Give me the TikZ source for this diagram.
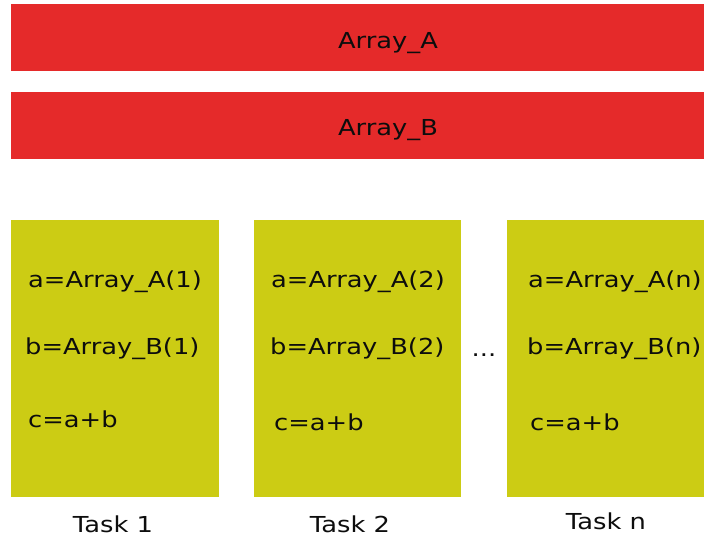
\documentclass[tikz,border=0pt]{standalone}
\usepackage{fontspec}
\setmainfont{DejaVu Sans}[FakeStretch=1.17]
\definecolor{barred}{HTML}{E52A2A}
\definecolor{taskyel}{HTML}{CCCC14}
\begin{document}
\begin{tikzpicture}[x=1pt,y=-1pt,
  bar/.style={fill=barred,draw=none},
  taskbox/.style={fill=taskyel,draw=none},
  txt/.style={font=\fontsize{22}{26}\selectfont,inner sep=0pt,text=black!95},
  lt/.style={txt,anchor=west}]
\useasboundingbox (0,0) rectangle (704,537);
\fill[white] (0,0) rectangle (704,537);
\path[bar] (11,4) rectangle (704,71);
\path[bar] (11,92) rectangle (704,159);
\node[txt] (arra) at (388,43) {Array\_A};
\node[txt] (arrb) at (388,130) {Array\_B};
\path[taskbox] (11,220) rectangle (219,497);
\path[taskbox] (254,220) rectangle (461,497);
\path[taskbox] (507,220) rectangle (704,497);
\node[lt] (a1) at (28,282) {a=Array\_A(1)};
\node[lt] (b1) at (25,349) {b=Array\_B(1)};
\node[lt] (c1) at (28,419) {c=a+b};
\node[lt] (a2) at (271,282) {a=Array\_A(2)};
\node[lt] (b2) at (270,349) {b=Array\_B(2)};
\node[lt] (c2) at (274,422) {c=a+b};
\node[lt] (an) at (528,282) {a=Array\_A(n)};
\node[lt] (bn) at (527,349) {b=Array\_B(n)};
\node[lt] (cn) at (530,422) {c=a+b};
\node[txt] (dots) at (484,355) {...};
\node[txt] (t1) at (113,524) {Task 1};
\node[txt] (t2) at (350,524) {Task 2};
\node[txt] (tn) at (606,521) {Task n};
\end{tikzpicture}
\end{document}
